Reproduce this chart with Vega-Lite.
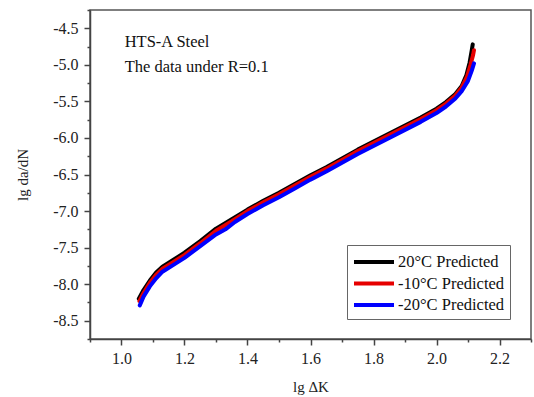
{
  "$schema": "https://vega.github.io/schema/vega-lite/v6.json",
  "width": 441,
  "height": 329,
  "autosize": {"type": "none"},
  "padding": {"left": 90, "top": 10, "right": 3, "bottom": 58},
  "background": "white",
  "config": {
    "view": {"stroke": "#555", "strokeWidth": 1.5},
    "font": "Liberation Serif",
    "axis": {
      "labelFont": "Liberation Serif",
      "titleFont": "Liberation Serif",
      "labelFontSize": 16,
      "titleFontSize": 15,
      "labelColor": "#222",
      "titleColor": "#222",
      "domainColor": "#444",
      "domainWidth": 1.5,
      "tickColor": "#444",
      "tickWidth": 1.5,
      "grid": false,
      "titleFontWeight": "normal"
    }
  },
  "datasets": {
    "curves": [
      {"series": "20°C Predicted", "lgdk": 1.055, "lgdadn": -8.20},
      {"series": "20°C Predicted", "lgdk": 1.07, "lgdadn": -8.08},
      {"series": "20°C Predicted", "lgdk": 1.09, "lgdadn": -7.95},
      {"series": "20°C Predicted", "lgdk": 1.11, "lgdadn": -7.84},
      {"series": "20°C Predicted", "lgdk": 1.13, "lgdadn": -7.76},
      {"series": "20°C Predicted", "lgdk": 1.16, "lgdadn": -7.68},
      {"series": "20°C Predicted", "lgdk": 1.20, "lgdadn": -7.57},
      {"series": "20°C Predicted", "lgdk": 1.25, "lgdadn": -7.41},
      {"series": "20°C Predicted", "lgdk": 1.30, "lgdadn": -7.24},
      {"series": "20°C Predicted", "lgdk": 1.35, "lgdadn": -7.11},
      {"series": "20°C Predicted", "lgdk": 1.40, "lgdadn": -6.98},
      {"series": "20°C Predicted", "lgdk": 1.45, "lgdadn": -6.86},
      {"series": "20°C Predicted", "lgdk": 1.50, "lgdadn": -6.75},
      {"series": "20°C Predicted", "lgdk": 1.55, "lgdadn": -6.63},
      {"series": "20°C Predicted", "lgdk": 1.60, "lgdadn": -6.51},
      {"series": "20°C Predicted", "lgdk": 1.65, "lgdadn": -6.40},
      {"series": "20°C Predicted", "lgdk": 1.70, "lgdadn": -6.28},
      {"series": "20°C Predicted", "lgdk": 1.75, "lgdadn": -6.16},
      {"series": "20°C Predicted", "lgdk": 1.80, "lgdadn": -6.05},
      {"series": "20°C Predicted", "lgdk": 1.85, "lgdadn": -5.94},
      {"series": "20°C Predicted", "lgdk": 1.90, "lgdadn": -5.83},
      {"series": "20°C Predicted", "lgdk": 1.95, "lgdadn": -5.72},
      {"series": "20°C Predicted", "lgdk": 2.00, "lgdadn": -5.60},
      {"series": "20°C Predicted", "lgdk": 2.03, "lgdadn": -5.51},
      {"series": "20°C Predicted", "lgdk": 2.06, "lgdadn": -5.40},
      {"series": "20°C Predicted", "lgdk": 2.08, "lgdadn": -5.29},
      {"series": "20°C Predicted", "lgdk": 2.095, "lgdadn": -5.14},
      {"series": "20°C Predicted", "lgdk": 2.105, "lgdadn": -4.97},
      {"series": "20°C Predicted", "lgdk": 2.112, "lgdadn": -4.80},
      {"series": "20°C Predicted", "lgdk": 2.115, "lgdadn": -4.72},

      {"series": "-10°C Predicted", "lgdk": 1.057, "lgdadn": -8.23},
      {"series": "-10°C Predicted", "lgdk": 1.07, "lgdadn": -8.12},
      {"series": "-10°C Predicted", "lgdk": 1.09, "lgdadn": -7.98},
      {"series": "-10°C Predicted", "lgdk": 1.11, "lgdadn": -7.87},
      {"series": "-10°C Predicted", "lgdk": 1.13, "lgdadn": -7.79},
      {"series": "-10°C Predicted", "lgdk": 1.16, "lgdadn": -7.71},
      {"series": "-10°C Predicted", "lgdk": 1.20, "lgdadn": -7.60},
      {"series": "-10°C Predicted", "lgdk": 1.25, "lgdadn": -7.44},
      {"series": "-10°C Predicted", "lgdk": 1.30, "lgdadn": -7.27},
      {"series": "-10°C Predicted", "lgdk": 1.35, "lgdadn": -7.14},
      {"series": "-10°C Predicted", "lgdk": 1.40, "lgdadn": -7.00},
      {"series": "-10°C Predicted", "lgdk": 1.45, "lgdadn": -6.88},
      {"series": "-10°C Predicted", "lgdk": 1.50, "lgdadn": -6.77},
      {"series": "-10°C Predicted", "lgdk": 1.55, "lgdadn": -6.65},
      {"series": "-10°C Predicted", "lgdk": 1.60, "lgdadn": -6.53},
      {"series": "-10°C Predicted", "lgdk": 1.65, "lgdadn": -6.42},
      {"series": "-10°C Predicted", "lgdk": 1.70, "lgdadn": -6.30},
      {"series": "-10°C Predicted", "lgdk": 1.75, "lgdadn": -6.18},
      {"series": "-10°C Predicted", "lgdk": 1.80, "lgdadn": -6.07},
      {"series": "-10°C Predicted", "lgdk": 1.85, "lgdadn": -5.96},
      {"series": "-10°C Predicted", "lgdk": 1.90, "lgdadn": -5.85},
      {"series": "-10°C Predicted", "lgdk": 1.95, "lgdadn": -5.74},
      {"series": "-10°C Predicted", "lgdk": 2.00, "lgdadn": -5.62},
      {"series": "-10°C Predicted", "lgdk": 2.03, "lgdadn": -5.53},
      {"series": "-10°C Predicted", "lgdk": 2.06, "lgdadn": -5.42},
      {"series": "-10°C Predicted", "lgdk": 2.08, "lgdadn": -5.31},
      {"series": "-10°C Predicted", "lgdk": 2.097, "lgdadn": -5.16},
      {"series": "-10°C Predicted", "lgdk": 2.108, "lgdadn": -5.00},
      {"series": "-10°C Predicted", "lgdk": 2.116, "lgdadn": -4.87},
      {"series": "-10°C Predicted", "lgdk": 2.119, "lgdadn": -4.80},

      {"series": "-20°C Predicted", "lgdk": 1.058, "lgdadn": -8.29},
      {"series": "-20°C Predicted", "lgdk": 1.07, "lgdadn": -8.17},
      {"series": "-20°C Predicted", "lgdk": 1.09, "lgdadn": -8.03},
      {"series": "-20°C Predicted", "lgdk": 1.11, "lgdadn": -7.92},
      {"series": "-20°C Predicted", "lgdk": 1.13, "lgdadn": -7.83},
      {"series": "-20°C Predicted", "lgdk": 1.16, "lgdadn": -7.75},
      {"series": "-20°C Predicted", "lgdk": 1.20, "lgdadn": -7.64},
      {"series": "-20°C Predicted", "lgdk": 1.25, "lgdadn": -7.48},
      {"series": "-20°C Predicted", "lgdk": 1.30, "lgdadn": -7.32},
      {"series": "-20°C Predicted", "lgdk": 1.33, "lgdadn": -7.25},
      {"series": "-20°C Predicted", "lgdk": 1.36, "lgdadn": -7.15},
      {"series": "-20°C Predicted", "lgdk": 1.40, "lgdadn": -7.04},
      {"series": "-20°C Predicted", "lgdk": 1.45, "lgdadn": -6.92},
      {"series": "-20°C Predicted", "lgdk": 1.50, "lgdadn": -6.81},
      {"series": "-20°C Predicted", "lgdk": 1.55, "lgdadn": -6.69},
      {"series": "-20°C Predicted", "lgdk": 1.60, "lgdadn": -6.57},
      {"series": "-20°C Predicted", "lgdk": 1.65, "lgdadn": -6.46},
      {"series": "-20°C Predicted", "lgdk": 1.70, "lgdadn": -6.34},
      {"series": "-20°C Predicted", "lgdk": 1.75, "lgdadn": -6.22},
      {"series": "-20°C Predicted", "lgdk": 1.80, "lgdadn": -6.11},
      {"series": "-20°C Predicted", "lgdk": 1.85, "lgdadn": -6.00},
      {"series": "-20°C Predicted", "lgdk": 1.90, "lgdadn": -5.89},
      {"series": "-20°C Predicted", "lgdk": 1.95, "lgdadn": -5.78},
      {"series": "-20°C Predicted", "lgdk": 2.00, "lgdadn": -5.66},
      {"series": "-20°C Predicted", "lgdk": 2.03, "lgdadn": -5.57},
      {"series": "-20°C Predicted", "lgdk": 2.06, "lgdadn": -5.46},
      {"series": "-20°C Predicted", "lgdk": 2.08, "lgdadn": -5.36},
      {"series": "-20°C Predicted", "lgdk": 2.10, "lgdadn": -5.22},
      {"series": "-20°C Predicted", "lgdk": 2.112, "lgdadn": -5.08},
      {"series": "-20°C Predicted", "lgdk": 2.119, "lgdadn": -4.98}
    ],
    "notes": [
      {"lgdk": 1.01, "lgdadn": -4.76, "label": "HTS-A Steel"},
      {"lgdk": 1.01, "lgdadn": -5.10, "label": "The data under R=0.1"}
    ],
    "xminor": [{"v": 0.9}, {"v": 1.1}, {"v": 1.3}, {"v": 1.5}, {"v": 1.7}, {"v": 1.9}, {"v": 2.1}, {"v": 2.3}]
  },
  "resolve": {"axis": {"x": "independent", "y": "independent"}},
  "layer": [
    {
      "data": {"name": "curves"},
      "mark": {"type": "line", "strokeWidth": 4, "strokeCap": "round", "strokeJoin": "round"},
      "encoding": {
        "x": {
          "field": "lgdk", "type": "quantitative",
          "scale": {"domain": [0.9, 2.3], "nice": false, "zero": false},
          "axis": {"orient": "bottom", "values": [1.0, 1.2, 1.4, 1.6, 1.8, 2.0, 2.2], "labelExpr": "format(datum.value, '.1f')", "tickSize": 6, "labelPadding": 5, "title": "lg ΔK", "titlePadding": 13}
        },
        "y": {
          "field": "lgdadn", "type": "quantitative",
          "scale": {"domain": [-8.75, -4.25], "nice": false, "zero": false},
          "axis": {"orient": "left", "values": [-8.5, -8.0, -7.5, -7.0, -6.5, -6.0, -5.5, -5.0, -4.5], "labelExpr": "'-' + format(abs(datum.value), '.1f')", "tickSize": 6, "labelPadding": 6, "title": "lg da/dN", "titlePadding": 22}
        },
        "color": {
          "field": "series", "type": "nominal",
          "scale": {"domain": ["20°C Predicted", "-10°C Predicted", "-20°C Predicted"], "range": ["#000000", "#e60000", "#0000ff"]},
          "legend": {
            "title": null,
            "orient": "none",
            "legendX": 257,
            "legendY": 235,
            "fillColor": "white",
            "strokeColor": "#666",
            "padding": 5,
            "symbolType": "M-2,0H2",
            "symbolSize": 400,
            "symbolOffset": 10,
            "symbolStrokeWidth": 4,
            "labelFont": "Liberation Serif",
            "labelFontSize": 16.5,
            "labelColor": "#111",
            "labelOffset": 12,
            "rowPadding": 0.5
          }
        },
        "order": {"field": "lgdk", "type": "quantitative"}
      }
    },
    {
      "data": {"name": "notes"},
      "mark": {"type": "text", "align": "left", "baseline": "alphabetic", "font": "Liberation Serif", "fontSize": 16.5, "color": "#111"},
      "encoding": {
        "x": {"field": "lgdk", "type": "quantitative", "axis": null},
        "y": {"field": "lgdadn", "type": "quantitative", "axis": null},
        "text": {"field": "label"}
      }
    },
    {
      "data": {"name": "xminor"},
      "mark": {"type": "point", "opacity": 0},
      "encoding": {
        "x": {"field": "v", "type": "quantitative",
          "axis": {"orient": "bottom", "values": [0.9, 1.1, 1.3, 1.5, 1.7, 1.9, 2.1, 2.3], "labels": false, "domain": false, "tickSize": 3, "title": null}},
        "y": {"datum": -8.75, "type": "quantitative",
          "axis": {"orient": "left", "values": [-8.75, -8.25, -7.75, -7.25, -6.75, -6.25, -5.75, -5.25, -4.75, -4.25], "labels": false, "domain": false, "tickSize": 3, "title": null}}
      }
    }
  ]
}
